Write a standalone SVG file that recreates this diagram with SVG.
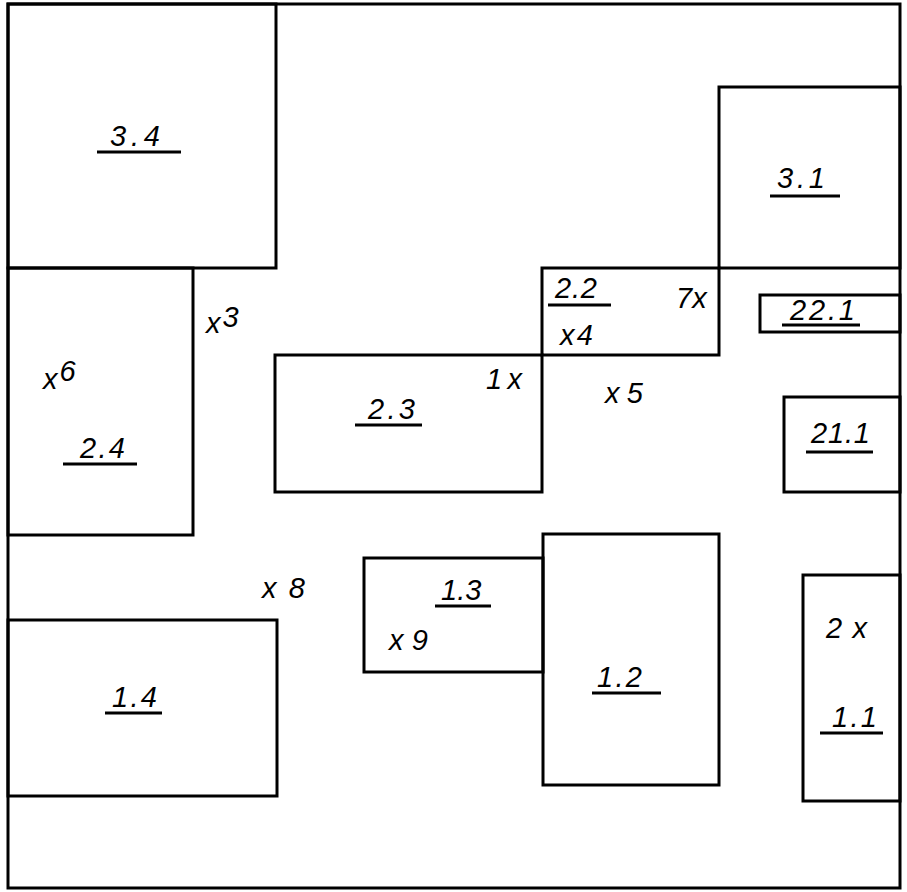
<svg xmlns="http://www.w3.org/2000/svg" width="907" height="892" viewBox="0 0 907 892">
<style>
rect{fill:none;stroke:#000;stroke-width:3}
line{stroke:#000;stroke-width:3}
text{font-family:"Liberation Sans","DejaVu Sans",sans-serif;font-style:italic;font-size:29px;fill:#000}
</style>
<rect x="0" y="0" width="907" height="892" style="fill:#fff;stroke:none"/>
<g id="frame"><rect x="8" y="4" width="892" height="884"/></g>
<g id="r34"><rect x="8" y="4" width="268" height="264"/><text x="110" y="146" textLength="50" font-size="30">3.4</text><line x1="97" y1="152" x2="181" y2="152"/></g>
<g id="r24"><rect x="8" y="268" width="185" height="267"/><text x="80" y="458" textLength="45">2.4</text><line x1="63" y1="464" x2="137" y2="464"/></g>
<g id="r31"><rect x="719" y="87" width="181" height="181"/><text x="777" y="188" textLength="48">3.1</text><line x1="770" y1="196" x2="840" y2="196"/></g>
<g id="r22"><rect x="542" y="268" width="177" height="87"/><text x="555" y="298" textLength="42" font-size="27">2.2</text><line x1="548" y1="305" x2="611" y2="305"/></g>
<g id="r221"><rect x="760" y="295" width="140" height="37"/><text x="790" y="320" textLength="65" font-size="27">22.1</text><line x1="782" y1="325" x2="860" y2="325"/></g>
<g id="r23"><rect x="275" y="355" width="267" height="137"/><text x="368" y="419" textLength="47">2.3</text><line x1="355" y1="425" x2="422" y2="425"/></g>
<g id="r211"><rect x="784" y="397" width="116" height="95"/><text x="811" y="443" textLength="59">21.1</text><line x1="806" y1="452" x2="873" y2="452"/></g>
<g id="r13"><rect x="364" y="558" width="179" height="114"/><text x="441" y="600" font-size="28">1.3</text><line x1="435" y1="606" x2="491" y2="606"/></g>
<g id="r12"><rect x="543" y="534" width="176" height="251"/><text x="597" y="687" textLength="45">1.2</text><line x1="592" y1="693" x2="661" y2="693"/></g>
<g id="r14"><rect x="8" y="620" width="269" height="176"/><text x="112" y="707" textLength="45">1.4</text><line x1="105" y1="713" x2="162" y2="713"/></g>
<g id="r11"><rect x="803" y="575" width="97" height="226"/><text x="832" y="727" textLength="45">1.1</text><line x1="820" y1="733" x2="883" y2="733"/></g>
<g id="points">
<text x="676" y="308" font-size="27">7x</text>
<text x="560" y="345" textLength="33" font-size="24">x4</text>
<text x="206" y="333" font-size="28">x<tspan dy="-6" dx="2">3</tspan></text>
<text x="43" y="389" font-size="28">x<tspan dy="-8" dx="2">6</tspan></text>
<text x="486" y="389" textLength="36" font-size="30">1x</text>
<text x="605" y="403" textLength="38" font-size="28">x 5</text>
<text x="262" y="598" textLength="43" font-size="28">x 8</text>
<text x="389" y="650" textLength="39" font-size="28">x 9</text>
<text x="826" y="638" textLength="41" font-size="30">2 x</text>
</g>
<g id="connectors"/>
</svg>
